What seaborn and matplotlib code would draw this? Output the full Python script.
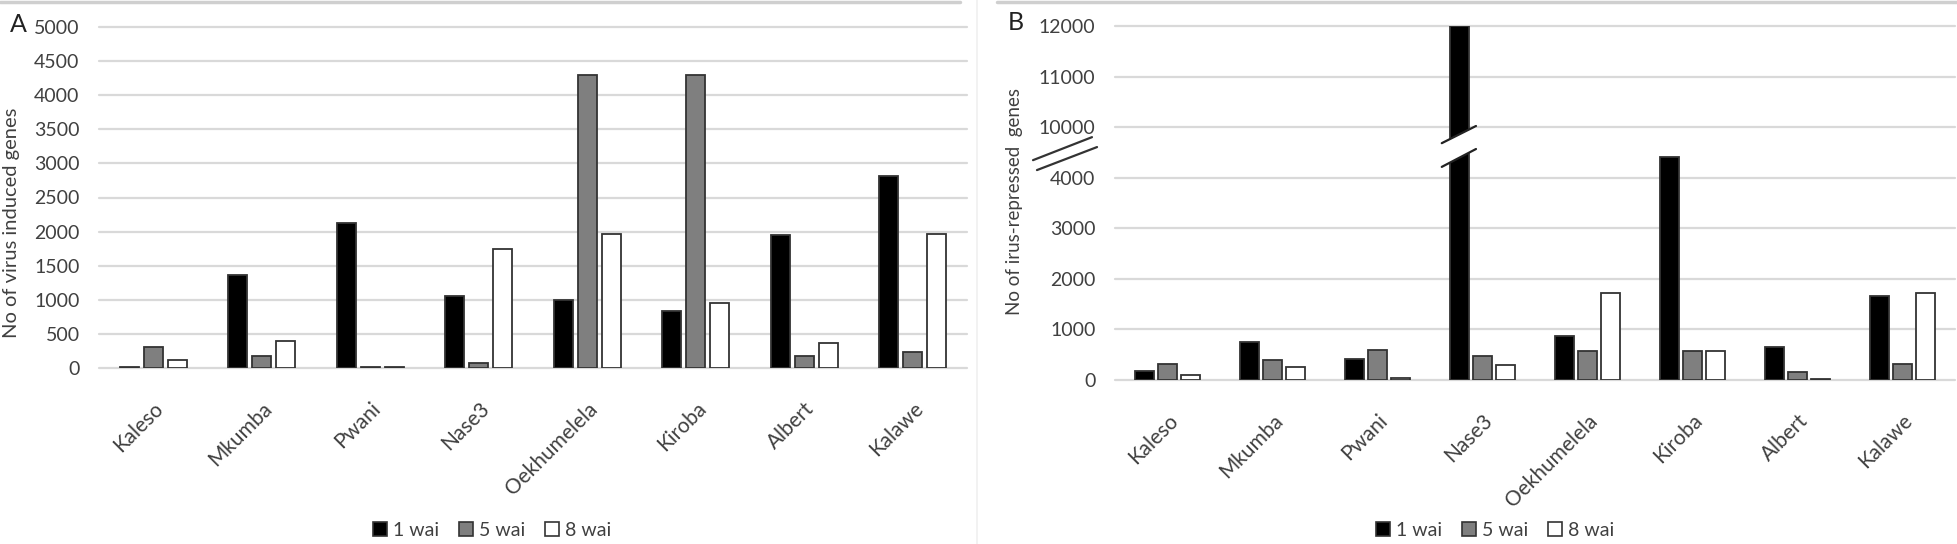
import numpy as np
import pandas as pd
import matplotlib
matplotlib.use("Agg")
import matplotlib.pyplot as plt
import matplotlib.transforms as mtransforms
from matplotlib.lines import Line2D
from matplotlib.patches import Patch, Polygon
import seaborn as sns

# ---- data ----
cultivars = ["Kaleso", "Mkumba", "Pwani", "Nase3", "Oekhumelela", "Kiroba", "Albert", "Kalawe"]
stages = ["1 wai", "5 wai", "8 wai"]

# panel A: virus induced genes
induced_1wai = [20, 1370, 2130, 1050, 1000, 830, 1950, 2820]
induced_5wai = [310, 170, 20, 70, 4300, 4300, 180, 240]
induced_8wai = [120, 400, 20, 1740, 1970, 960, 360, 1970]

# panel B: virus repressed genes (broken axis)
repressed_1wai = [180, 760, 410, 12000, 870, 4400, 660, 1660]
repressed_5wai = [320, 390, 590, 480, 580, 580, 150, 310]
repressed_8wai = [90, 260, 40, 290, 1730, 580, 20, 1730]

yticks_a = [0, 500, 1000, 1500, 2000, 2500, 3000, 3500, 4000, 4500, 5000]
yticks_b = [0, 1000, 2000, 3000, 4000, 10000, 11000, 12000]

bar_colors = ["#000000", "#7f7f7f", "#ffffff"]
text_col = "#404040"
grid_col = "#d9d9d9"


def long_table(s1, s2, s3):
    rows = []
    for stage, vals in zip(stages, [s1, s2, s3]):
        for c, v in zip(cultivars, vals):
            rows.append({"cultivar": c, "stage": stage, "count": v})
    return pd.DataFrame(rows)


df_a = long_table(induced_1wai, induced_5wai, induced_8wai)
df_b = long_table(repressed_1wai, repressed_5wai, repressed_8wai)

sns.set_style("white")
plt.rcParams["font.family"] = ["Lato", "DejaVu Sans"]

fig = plt.figure(figsize=(19.58, 5.44), dpi=100)
W, H = 1958.0, 544.0

ax_a = fig.add_axes([99 / W, 1 - 368 / H, (967 - 99) / W, (368 - 27) / H])
ax_b = fig.add_axes([1115 / W, 1 - 380 / H, (1955 - 1115) / W, (380 - 26) / H])


def style_axis(ax):
    for s in ax.spines.values():
        s.set_visible(False)
    ax.set_axisbelow(True)
    ax.yaxis.grid(True, color=grid_col, linewidth=1.6)
    ax.xaxis.grid(False)
    for gl in ax.get_ygridlines():
        gl.set_clip_on(False)
    ax.tick_params(axis="both", length=0, labelsize=14, colors=text_col)
    ax.tick_params(axis="y", pad=14)
    ax.tick_params(axis="x", pad=22, labelsize=15)
    ax.set_xlabel("")
    ax.set_xlim(-0.5, len(cultivars) - 0.5)
    for lab in ax.get_xticklabels():
        lab.set_rotation(45)
        lab.set_ha("right")
        lab.set_rotation_mode("anchor")


# ---- panel A ----
sns.barplot(data=df_a, x="cultivar", y="count", hue="stage", palette=bar_colors,
            edgecolor="#333333", linewidth=1.3, width=0.66, gap=0.2,
            legend=False, ax=ax_a)
ax_a.set_ylim(0, 5000)
ax_a.set_yticks(yticks_a)
ax_a.set_yticklabels([str(t) for t in yticks_a])
style_axis(ax_a)
ax_a.set_ylabel("No of virus induced genes", fontsize=14.5, color=text_col)
ax_a.yaxis.set_label_coords(-0.091, 0.425)


# ---- panel B with broken y axis: 0-4900 linear, 10000+ shifted down by 5000 ----
def fwd(v):
    v = np.asarray(v, dtype=float)
    return np.where(v <= 4900, v,
                    np.where(v >= 10000, v - 5000, 4900 + (v - 4900) * 100.0 / 5100.0))


def inv(u):
    u = np.asarray(u, dtype=float)
    return np.where(u <= 4900, u,
                    np.where(u >= 5000, u + 5000, 4900 + (u - 4900) * 5100.0 / 100.0))


sns.barplot(data=df_b, x="cultivar", y="count", hue="stage", palette=bar_colors,
            edgecolor="#333333", linewidth=1.3, width=0.66, gap=0.2,
            legend=False, ax=ax_b)
ax_b.set_yscale("function", functions=(fwd, inv))
ax_b.set_ylim(0, 12000)
ax_b.set_yticks(yticks_b)
ax_b.set_yticklabels([str(t) for t in yticks_b])
style_axis(ax_b)
ax_b.set_ylabel("No of irus-repressed  genes", fontsize=13.5, color=text_col)
ax_b.yaxis.set_label_coords(-0.1095, 0.504)

# break marks beside the tick labels
for (x0, y0), (x1, y1) in [((-0.0976, 0.621), (-0.0274, 0.686)),
                           ((-0.0929, 0.593), (-0.0214, 0.658))]:
    ax_b.plot([x0, x1], [y0, y1], color="#333333", lw=1.6,
              transform=ax_b.transAxes, clip_on=False)

# break on the tallest bar
tall = max(ax_b.patches, key=lambda p: p.get_height())
bx0 = tall.get_x() - 0.08
bx1 = tall.get_x() + tall.get_width() + 0.07
trans = mtransforms.blended_transform_factory(ax_b.transData, ax_b.transAxes)
gap_poly = Polygon([(bx0, 0.602), (bx1, 0.6525), (bx1, 0.7175), (bx0, 0.669)],
                   closed=True, facecolor="white", edgecolor="none",
                   transform=trans, zorder=5)
ax_b.add_patch(gap_poly)
ax_b.plot([bx0, bx1], [0.669, 0.7175], color="#222222", lw=1.6, transform=trans, zorder=6)
ax_b.plot([bx0, bx1], [0.602, 0.6525], color="#222222", lw=1.6, transform=trans, zorder=6)

# panel letters
fig.text(10 / W, 1 - 24 / H, "A", fontsize=18, color="#222222", va="center", ha="left")
fig.text(1008 / W, 1 - 22 / H, "B", fontsize=18, color="#222222", va="center", ha="left")

# legends
handles = [Patch(facecolor=c, edgecolor="#333333", linewidth=1.2) for c in bar_colors]
for cx in [492 / W, 1495 / W]:
    fig.legend(handles, stages, loc="center", bbox_to_anchor=(cx, 1 - 530 / H),
               ncol=3, frameon=False, fontsize=14, handlelength=0.75,
               handleheight=0.75, handletextpad=0.3, columnspacing=1.0,
               labelcolor=text_col)

# frame lines of the original figure
fig.add_artist(Line2D([0, 960 / W], [1 - 2 / H, 1 - 2 / H], color="#cfcfcf", lw=2.5))
fig.add_artist(Line2D([997 / W, 1], [1 - 2 / H, 1 - 2 / H], color="#cfcfcf", lw=2.5))
fig.add_artist(Line2D([977 / W, 977 / W], [0, 1], color="#f0f0f0", lw=1.2))

fig.savefig("out.png", dpi=100)
